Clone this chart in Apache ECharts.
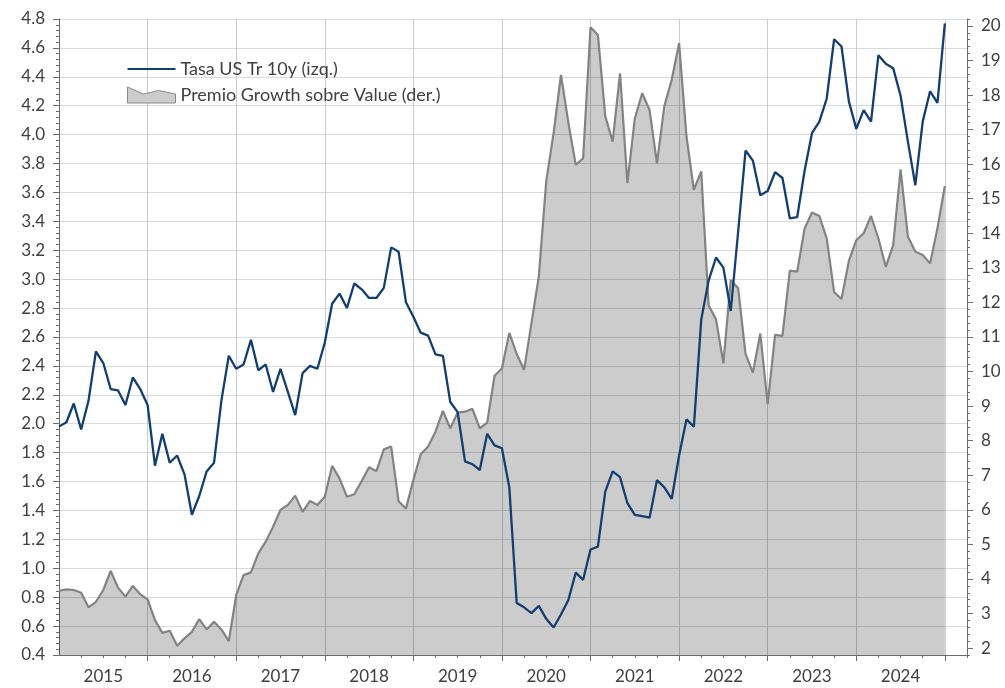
<!DOCTYPE html>
<html>
<head>
<meta charset="utf-8">
<script src="https://cdn.jsdelivr.net/npm/echarts@6.0.0/dist/echarts.min.js"></script>
<style>
  html, body { margin: 0; padding: 0; background: #fff; }
  #chart { width: 1005px; height: 688px; }
</style>
</head>
<body>
<div id="chart"></div>
<script>
// meses ene-2015 .. abr-2025 (los 3 ultimos quedan vacios)
var months = [];
for (var y = 2015; y <= 2025; y++) {
  for (var m = 1; m <= 12; m++) {
    if (y === 2025 && m > 4) break;
    months.push(y + '-' + (m < 10 ? '0' + m : m));
  }
}

// Tasa US Tr 10y (izq.)
var tasa10y = [
  1.98, 2.01, 2.14, 1.96, 2.16, 2.50, 2.42, 2.24, 2.23, 2.13, 2.32, 2.24,
  2.13, 1.71, 1.93, 1.73, 1.78, 1.65, 1.37, 1.50, 1.67, 1.73, 2.16, 2.47,
  2.38, 2.41, 2.58, 2.37, 2.41, 2.22, 2.38, 2.22, 2.06, 2.35, 2.40, 2.38,
  2.56, 2.83, 2.90, 2.80, 2.97, 2.93, 2.87, 2.87, 2.94, 3.22, 3.19, 2.84,
  2.74, 2.63, 2.61, 2.48, 2.47, 2.15, 2.08, 1.74, 1.72, 1.68, 1.93, 1.85,
  1.83, 1.56, 0.76, 0.73, 0.69, 0.74, 0.65, 0.59, 0.68, 0.78, 0.97, 0.92,
  1.13, 1.15, 1.53, 1.67, 1.63, 1.45, 1.37, 1.36, 1.35, 1.61, 1.56, 1.48,
  1.78, 2.03, 1.98, 2.72, 2.99, 3.15, 3.08, 2.78, 3.33, 3.89, 3.82, 3.58,
  3.61, 3.74, 3.70, 3.42, 3.43, 3.75, 4.01, 4.09, 4.25, 4.66, 4.61, 4.23,
  4.04, 4.17, 4.09, 4.55, 4.49, 4.46, 4.27, 3.95, 3.65, 4.09, 4.30, 4.22,
  4.77
];

// Premio Growth sobre Value (der.)
var premioGV = [
  3.66, 3.70, 3.68, 3.60, 3.18, 3.34, 3.68, 4.23, 3.75, 3.49, 3.80, 3.56,
  3.41, 2.81, 2.44, 2.50, 2.07, 2.28, 2.47, 2.84, 2.54, 2.76, 2.54, 2.20,
  3.53, 4.11, 4.19, 4.74, 5.08, 5.51, 6.00, 6.14, 6.41, 5.94, 6.26, 6.14,
  6.38, 7.27, 6.91, 6.38, 6.45, 6.83, 7.23, 7.12, 7.75, 7.83, 6.25, 6.04,
  6.86, 7.61, 7.83, 8.26, 8.86, 8.36, 8.81, 8.84, 8.92, 8.36, 8.52, 9.88,
  10.09, 11.12, 10.51, 10.05, 11.4, 12.75, 15.5, 16.9, 18.58, 17.2, 15.98, 16.17,
  19.96, 19.74, 17.39, 16.65, 18.63, 15.45, 17.32, 18.05, 17.57, 16.02, 17.68, 18.44,
  19.5, 16.8, 15.26, 15.79, 11.92, 11.51, 10.24, 12.65, 12.41, 10.51, 9.97, 11.1,
  9.06, 11.06, 11.03, 12.92, 12.89, 14.14, 14.6, 14.5, 13.85, 12.3, 12.1, 13.2,
  13.8, 14.0, 14.5, 13.85, 13.03, 13.66, 15.85, 13.9, 13.47, 13.37, 13.13, 14.15,
  15.37
];

var rightTicks = [2, 3, 4, 5, 6, 7, 8, 9, 10, 11, 12, 13, 14, 15, 16, 17, 18, 19, 20];

var axisColor = '#6b6b6b';
var blue = '#123f70';
var labelStyle = { color: '#404040', fontSize: 17, fontFamily: 'Lato' };

var option = {
  animation: false,
  grid: { left: 59, right: 38, top: 19, bottom: 33, containLabel: false },
  legend: {
    orient: 'vertical',
    left: 122,
    top: 55,
    itemWidth: 48,
    itemHeight: 16,
    itemGap: 8,
    textStyle: { color: '#404040', fontSize: 18, fontFamily: 'Lato' },
    data: [
      {
        name: 'Tasa US Tr 10y (izq.)',
        icon: 'path://M0,0 L48,0 L48,2 L0,2 Z',
        itemStyle: { color: blue, borderWidth: 0 }
      },
      {
        name: 'Premio Growth sobre Value (der.)',
        icon: 'path://M0,0 L16,7 L31,3.5 L48,7 L48,16 L0,16 Z',
        itemStyle: { color: '#cccccc', borderColor: '#8a8a8a', borderWidth: 1 }
      }
    ]
  },
  xAxis: [
    {
      type: 'category',
      data: months,
      boundaryGap: false,
      axisLine: { lineStyle: { color: axisColor } },
      axisTick: {
        length: 6,
        lineStyle: { color: axisColor },
        interval: function (i) { return i > 0 && i % 12 === 0; }
      },
      axisLabel: Object.assign({
        margin: 13,
        interval: function (i) { return i % 12 === 6; },
        formatter: function (v) { return v.slice(0, 4); }
      }, labelStyle),
      splitLine: {
        show: true,
        interval: function (i) { return i > 0 && i % 12 === 0; },
        lineStyle: { color: '#c6ccd1', width: 1 }
      }
    },
    {
      // trimestres: ticks menores
      type: 'category',
      data: months,
      boundaryGap: false,
      position: 'bottom',
      axisLine: { show: false },
      axisTick: {
        length: 3,
        lineStyle: { color: axisColor },
        interval: function (i) { return i % 3 === 0 && i % 12 !== 0; }
      },
      axisLabel: { show: false },
      splitLine: { show: false }
    }
  ],
  yAxis: [
    {
      type: 'value',
      min: 0.4,
      max: 4.8,
      interval: 0.2,
      axisLine: { show: true, lineStyle: { color: axisColor } },
      axisTick: { show: true, length: 6, lineStyle: { color: axisColor } },
      minorTick: { show: true, splitNumber: 5, length: 3, lineStyle: { color: axisColor } },
      axisLabel: Object.assign({
        margin: 14,
        formatter: function (v) { return v.toFixed(1); }
      }, labelStyle),
      splitLine: { lineStyle: { color: '#d6dadd', width: 1 } }
    },
    {
      // eje derecho, ticks menores cada 0.2
      type: 'value',
      position: 'right',
      min: 1.8,
      max: 20.2,
      interval: 0.2,
      axisLine: { show: true, lineStyle: { color: axisColor } },
      axisTick: { show: true, length: 3, lineStyle: { color: axisColor } },
      axisLabel: { show: false },
      splitLine: { show: false }
    },
    {
      // eje derecho, enteros
      type: 'value',
      position: 'right',
      min: 1.8,
      max: 20.2,
      axisLine: { show: false },
      axisTick: { show: true, length: 6, customValues: rightTicks, lineStyle: { color: axisColor } },
      axisLabel: Object.assign({ margin: 14, customValues: rightTicks }, labelStyle),
      splitLine: { show: false }
    }
  ],
  series: [
    {
      name: 'Premio Growth sobre Value (der.)',
      type: 'line',
      yAxisIndex: 1,
      data: premioGV,
      symbol: 'none',
      lineStyle: { color: '#838383', width: 2.2 },
      itemStyle: { color: '#cccccc' },
      areaStyle: { color: 'rgba(0,0,0,0.2)', opacity: 1, origin: 'start' }
    },
    {
      name: 'Tasa US Tr 10y (izq.)',
      type: 'line',
      yAxisIndex: 0,
      data: tasa10y,
      symbol: 'none',
      lineStyle: { color: blue, width: 2.3 },
      itemStyle: { color: blue }
    }
  ]
};

var myChart = echarts.init(document.getElementById('chart'), null, { renderer: 'canvas' });
myChart.setOption(option);
</script>
</body>
</html>
